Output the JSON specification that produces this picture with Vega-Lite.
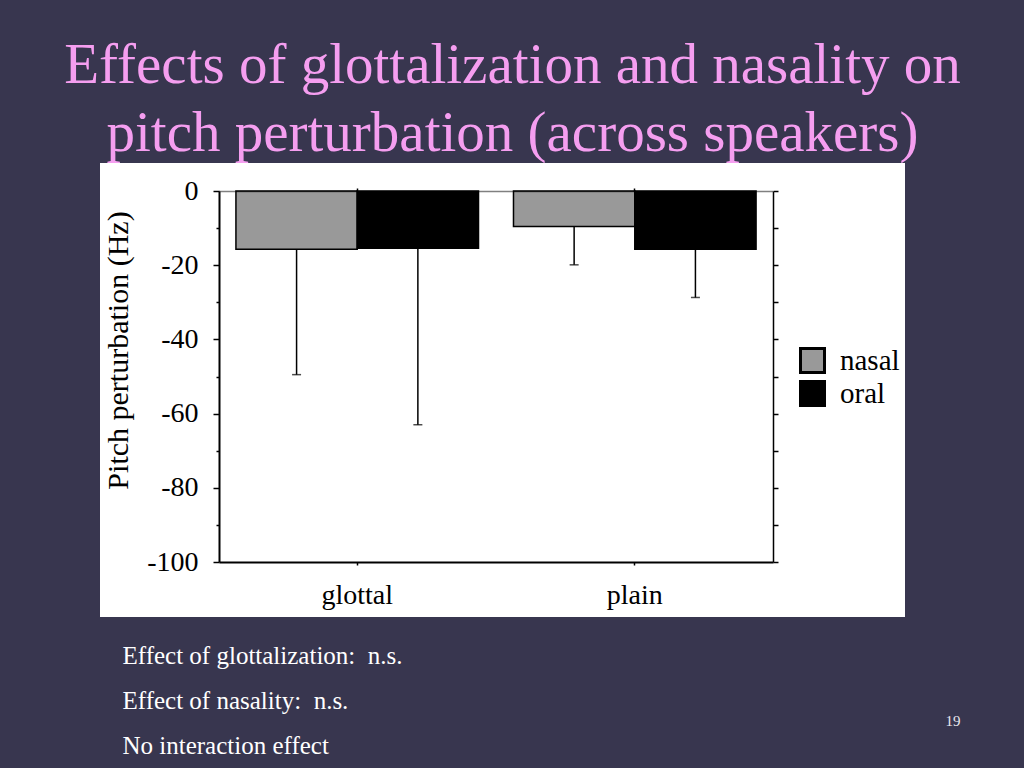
{
  "$schema": "https://vega.github.io/schema/vega-lite/v6.json",
  "width": 805,
  "height": 454,
  "autosize": {"type": "none"},
  "padding": {"left": 100, "top": 163, "right": 119, "bottom": 151},
  "background": "#38364f",
  "title": {
    "text": ["Effects of glottalization and nasality on", "pitch perturbation (across speakers)"],
    "font": "Liberation Serif",
    "fontSize": 57,
    "fontWeight": "normal",
    "color": "#f59ef0",
    "anchor": "middle",
    "frame": "group",
    "dx": 10,
    "offset": -45,
    "lineHeight": 68,
    "baseline": "alphabetic"
  },
  "config": {
    "view": {"fill": "white", "stroke": null}
  },
  "data": {
    "values": [
      {"place": "glottal", "nasality": "nasal", "value": -15.7, "low": -49.5},
      {"place": "glottal", "nasality": "oral", "value": -15.4, "low": -63.0},
      {"place": "plain", "nasality": "nasal", "value": -9.6, "low": -19.9},
      {"place": "plain", "nasality": "oral", "value": -15.7, "low": -28.7}
    ]
  },
  "resolve": {"axis": {"x": "independent", "y": "independent"}},
  "layer": [
    {
      "mark": {"type": "bar", "stroke": "black", "strokeWidth": 1.5},
      "encoding": {
        "x": {
          "field": "place", "type": "nominal",
          "scale": {"range": [119, 673], "paddingInner": 0.126, "paddingOuter": 0.061},
          "axis": {
            "orient": "bottom", "offset": -55,
            "domainColor": "black", "domainWidth": 2,
            "tickColor": "black", "tickSize": 3, "tickWidth": 1.5,
            "labelFont": "Liberation Serif", "labelFontSize": 28, "labelColor": "black",
            "labelPadding": 16, "labelAngle": 0,
            "title": ["Effect of glottalization:\u00a0 n.s.", "Effect of nasality:\u00a0 n.s.", "No interaction effect"],
            "titleFont": "Liberation Serif", "titleFontSize": 25, "titleFontWeight": "normal",
            "titleColor": "white", "titleAlign": "left", "titleAnchor": "start",
            "titleX": 22, "titleY": 101, "titleBaseline": "alphabetic", "titleLineHeight": 45
          }
        },
        "xOffset": {"field": "nasality", "type": "nominal", "scale": {"paddingInner": 0, "paddingOuter": 0}},
        "y": {
          "field": "value", "type": "quantitative",
          "scale": {"domain": [-100, 0], "range": [399, 28], "nice": false},
          "axis": {
            "orient": "left", "offset": -119,
            "values": [0, -20, -40, -60, -80, -100],
            "labelExpr": "toString(datum.value)",
            "grid": false,
            "domainColor": "black", "domainWidth": 2,
            "tickColor": "black", "tickSize": 6, "tickWidth": 1.5,
            "labelFont": "Liberation Serif", "labelFontSize": 28, "labelColor": "black",
            "labelPadding": 15,
            "title": "Pitch perturbation (Hz)",
            "titleFont": "Liberation Serif", "titleFontSize": 30, "titleFontWeight": "normal",
            "titleColor": "black", "titleX": -86, "titleY": 187, "titleBaseline": "bottom"
          }
        },
        "color": {
          "field": "nasality", "type": "nominal",
          "scale": {"domain": ["nasal", "oral"], "range": ["#999999", "#000000"]},
          "legend": {
            "orient": "none", "legendX": 698, "legendY": 183,
            "title": null,
            "symbolType": "square", "symbolSize": 576,
            "symbolStrokeColor": "black", "symbolStrokeWidth": 3,
            "labelFont": "Liberation Serif", "labelFontSize": 29, "labelColor": "black",
            "labelOffset": 13, "rowPadding": -7
          }
        }
      }
    },
    {
      "mark": {"type": "rule", "color": "black", "strokeWidth": 1.5},
      "encoding": {
        "x": {
          "field": "place", "type": "nominal",
          "scale": {"range": [119, 673], "paddingInner": 0.126, "paddingOuter": 0.061},
          "axis": {
            "orient": "top", "offset": -28, "labels": false, "title": null,
            "domainColor": "black", "domainWidth": 1.5, "domainDash": [1, 1],
            "tickColor": "black", "tickSize": 3, "tickWidth": 1.5, "zindex": 1
          }
        },
        "xOffset": {"field": "nasality", "type": "nominal", "scale": {"paddingInner": 0, "paddingOuter": 0}},
        "y": {
          "field": "low", "type": "quantitative",
          "scale": {"domain": [-100, 0], "range": [399, 28], "nice": false},
          "axis": {
            "orient": "right", "offset": -132,
            "values": [0, -10, -20, -30, -40, -50, -60, -70, -80, -90, -100],
            "grid": false, "labels": false,
            "domainColor": "black", "domainWidth": 1.5,
            "tickColor": "black", "tickSize": 5, "tickWidth": 1.5,
            "title": "19",
            "titleFont": "Liberation Serif", "titleFontSize": 15, "titleFontWeight": "normal",
            "titleColor": "#e8e8ee", "titleAngle": 0, "titleAlign": "left",
            "titleX": 172, "titleY": 562, "titleBaseline": "alphabetic"
          }
        },
        "y2": {"field": "value"}
      }
    },
    {
      "mark": {"type": "tick", "color": "black", "thickness": 1.5, "size": 9},
      "encoding": {
        "x": {
          "field": "place", "type": "nominal",
          "scale": {"range": [119, 673], "paddingInner": 0.126, "paddingOuter": 0.061},
          "axis": null
        },
        "xOffset": {"field": "nasality", "type": "nominal", "scale": {"paddingInner": 0, "paddingOuter": 0}},
        "y": {
          "field": "low", "type": "quantitative",
          "scale": {"domain": [-100, 0], "range": [399, 28], "nice": false},
          "axis": {
            "orient": "left", "offset": -119,
            "values": [-10, -30, -50, -70, -90],
            "grid": false, "labels": false, "domain": false,
            "tickColor": "black", "tickSize": 3, "tickWidth": 1.5,
            "title": null
          }
        }
      }
    }
  ]
}
